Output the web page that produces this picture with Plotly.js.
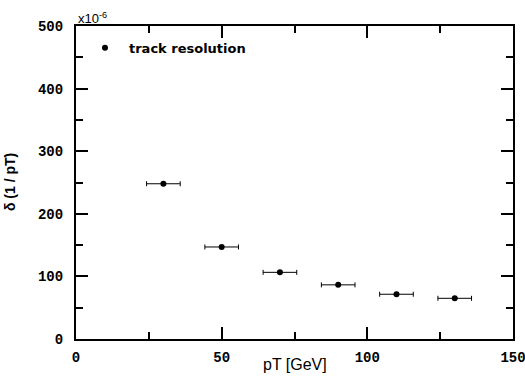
<!DOCTYPE html>
<html>
<head>
<meta charset="utf-8">
<script src="https://cdn.plot.ly/plotly-3.0.1.min.js"></script>
<style>html,body{margin:0;padding:0;background:#fff;}#chart{width:525px;height:383px;}</style>
</head>
<body>
<div id="chart"></div>
<script>
// Data
var seriesName = "track resolution";
var pT = [30, 50, 70, 90, 110, 130];          // GeV
var resolution = [248, 147, 106.5, 86.5, 71.5, 65]; // in units of 1e-6
var pTError = [5.77, 5.77, 5.77, 5.77, 5.77, 5.77];
var xTickVals = [0, 50, 100, 150];
var yTickVals = [0, 100, 200, 300, 400, 500];

var tickFont = {family: "Liberation Mono, Courier New, monospace", size: 14, color: "#000", weight: "bold"};

var trace = {
  type: "scatter",
  mode: "markers",
  name: seriesName,
  x: pT,
  y: resolution,
  marker: {symbol: "circle", size: 6, color: "#000"},
  error_x: {type: "data", array: pTError, visible: true, color: "#000", thickness: 1, width: 2.5},
  cliponaxis: false
};

var axisCommon = {
  showline: true, linecolor: "#000", linewidth: 2, mirror: "allticks",
  ticks: "inside", ticklen: 12, tickwidth: 2, tickcolor: "#000",
  showgrid: false, zeroline: false, tickfont: tickFont, fixedrange: true,
  ticklabeloverflow: "allow"
};

var layout = {
  width: 525, height: 383,
  margin: {l: 76, r: 12, t: 26, b: 44, pad: 0},
  paper_bgcolor: "#fff", plot_bgcolor: "#fff",
  showlegend: true,
  legend: {
    x: 0.0114, y: 0.978, xanchor: "left", yanchor: "top",
    bgcolor: "rgba(0,0,0,0)", borderwidth: 0, itemwidth: 38,
    font: {family: "DejaVu Sans, sans-serif", size: 13, color: "#000", weight: "bold"}
  },
  xaxis: Object.assign({}, axisCommon, {
    range: [0, 150], tickmode: "array", tickvals: xTickVals,
    minor: {dtick: 25, tick0: 0, ticks: "inside", ticklen: 7, tickwidth: 2, tickcolor: "#000"},
    ticklabelstandoff: 4
  }),
  yaxis: Object.assign({}, axisCommon, {
    range: [0, 500], tickmode: "array", tickvals: yTickVals,
    minor: {dtick: 50, tick0: 0, ticks: "inside", ticklen: 7, tickwidth: 2, tickcolor: "#000"},
    ticklabelstandoff: 8
  }),
  annotations: [
    {text: "pT [GeV]", xref: "paper", yref: "paper", x: 0.5, y: -0.08, xanchor: "center", yanchor: "middle",
     showarrow: false, font: {family: "Liberation Sans, Arial, sans-serif", size: 16, color: "#000"}},
    {text: "δ (1 / pT)", xref: "paper", yref: "paper", x: -0.152, y: 0.5, xanchor: "center", yanchor: "middle",
     textangle: -90, showarrow: false, font: {family: "Liberation Sans, Arial, sans-serif", size: 14, color: "#000", weight: "bold"}},
    {text: "x10<sup>-6</sup>", xref: "paper", yref: "paper", x: 0.0, y: 1.0, xanchor: "left", yanchor: "bottom",
     showarrow: false, yshift: -2, font: {family: "Liberation Sans, Arial, sans-serif", size: 13, color: "#000"}}
  ]
};

Plotly.newPlot("chart", [trace], layout, {displayModeBar: false, staticPlot: true});
</script>
</body>
</html>
